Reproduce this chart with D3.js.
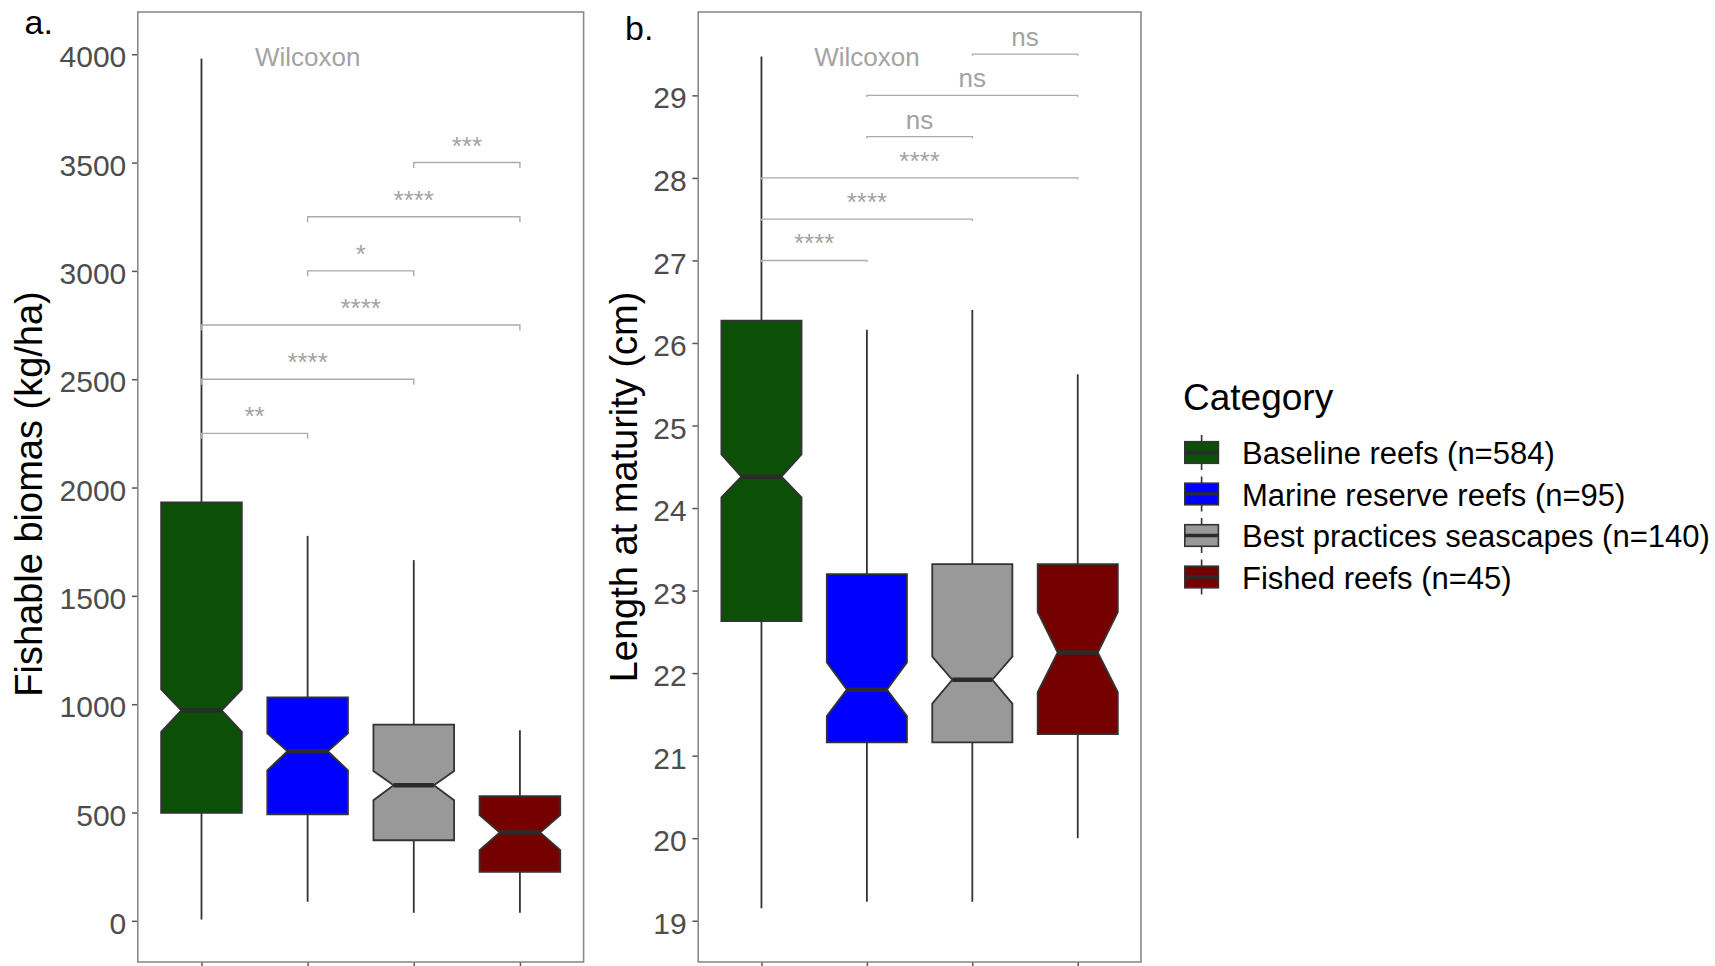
<!DOCTYPE html>
<html><head><meta charset="utf-8">
<script src="https://cdn.jsdelivr.net/npm/d3@7"></script>
<style>body{margin:0;background:#fff} text{font-family:"Liberation Sans",Arial,Helvetica,sans-serif}</style>
</head><body><svg id="chart" width="1715" height="966"></svg>
<script>
// ---------- data ----------
const categories = ["Baseline reefs (n=584)", "Marine reserve reefs (n=95)", "Best practices seascapes (n=140)", "Fished reefs (n=45)"];
const fillColors = ["#0c4f07", "#0000ff", "#999999", "#750000"];

// panel a: fishable biomass (kg/ha)
const biomassLowerWhisker = [6, 88, 37, 37];
const biomassQ1 = [498, 492, 372, 226];
const biomassNotchLower = [872, 695, 557, 326];
const biomassMedian = [972, 783, 626, 408];
const biomassNotchUpper = [1068, 865, 692, 488];
const biomassQ3 = [1931, 1031, 906, 575];
const biomassUpperWhisker = [3980, 1777, 1665, 880];
const biomassTicks = [0, 500, 1000, 1500, 2000, 2500, 3000, 3500, 4000];
const biomassPairs = [[0, 1], [0, 2], [0, 3], [1, 2], [1, 3], [2, 3]];
const biomassBracketY = [2250, 2500, 2750, 3000, 3250, 3500];
const biomassSignif = ["**", "****", "****", "*", "****", "***"];

// panel b: length at maturity (cm)
const lengthLowerWhisker = [19.15, 19.23, 19.23, 20.00];
const lengthQ1 = [22.63, 21.16, 21.16, 21.26];
const lengthNotchLower = [24.13, 21.48, 21.63, 21.77];
const lengthMedian = [24.38, 21.80, 21.92, 22.25];
const lengthNotchUpper = [24.65, 22.13, 22.20, 22.74];
const lengthQ3 = [26.27, 23.20, 23.32, 23.32];
const lengthUpperWhisker = [29.47, 26.16, 26.40, 25.62];
const lengthTicks = [19, 20, 21, 22, 23, 24, 25, 26, 27, 28, 29];
const lengthPairs = [[0, 1], [0, 2], [0, 3], [1, 2], [1, 3], [2, 3]];
const lengthBracketY = [27, 27.5, 28, 28.5, 29, 29.5];
const lengthSignif = ["****", "****", "****", "ns", "ns", "ns"];

// ---------- drawing ----------
const svg = d3.select("#chart");

function drawPanel(cfg) {
  const g = svg.append("g");
  const x = d3.scalePoint().domain(d3.range(categories.length))
    .range([cfg.left, cfg.right]).padding(0.6);
  const unit = x.step();
  const y = d3.scaleLinear().domain(cfg.yDomain).range([cfg.bottom, cfg.top]);
  const bw = unit * 0.76, hw = bw / 2, nw = hw * 0.5;

  // axes
  const ya = g.append("g").attr("transform", `translate(${cfg.left},0)`)
    .call(d3.axisLeft(y).tickValues(cfg.ticks).tickFormat(d3.format("d")).tickSize(5.8).tickPadding(5.7));
  ya.select(".domain").remove();
  ya.selectAll("line").attr("stroke", "#555").attr("stroke-width", 1.5);
  ya.selectAll("text").attr("font-size", 30).attr("fill", "#4d4d4d").attr("dy", "0.42em");

  const xa = g.append("g").attr("transform", `translate(0,${cfg.bottom})`)
    .call(d3.axisBottom(x).tickSize(5.5).tickFormat(""));
  xa.select(".domain").remove();
  xa.selectAll("line").attr("stroke", "#555").attr("stroke-width", 1.5);

  // boxes
  const idx = d3.range(categories.length);
  const bx = g.append("g").selectAll("g").data(idx).join("g");
  bx.append("line").attr("x1", i => x(i)).attr("x2", i => x(i))
    .attr("y1", i => y(cfg.uw[i])).attr("y2", i => y(cfg.q3[i]))
    .attr("stroke", "#333").attr("stroke-width", 1.8);
  bx.append("line").attr("x1", i => x(i)).attr("x2", i => x(i))
    .attr("y1", i => y(cfg.q1[i])).attr("y2", i => y(cfg.lw[i]))
    .attr("stroke", "#333").attr("stroke-width", 1.8);
  bx.append("path")
    .attr("d", i => {
      const c = x(i);
      return d3.line()([
        [c - hw, y(cfg.q3[i])], [c + hw, y(cfg.q3[i])], [c + hw, y(cfg.nu[i])],
        [c + nw, y(cfg.med[i])], [c + hw, y(cfg.nl[i])], [c + hw, y(cfg.q1[i])],
        [c - hw, y(cfg.q1[i])], [c - hw, y(cfg.nl[i])], [c - nw, y(cfg.med[i])],
        [c - hw, y(cfg.nu[i])]
      ]) + "Z";
    })
    .attr("fill", i => fillColors[i]).attr("stroke", "#333").attr("stroke-width", 1.8)
    .attr("stroke-linejoin", "miter");
  bx.append("line").attr("x1", i => x(i) - nw).attr("x2", i => x(i) + nw)
    .attr("y1", i => y(cfg.med[i])).attr("y2", i => y(cfg.med[i]))
    .attr("stroke", "#2b2b2b").attr("stroke-width", 4.5);

  // significance brackets
  const br = g.append("g").selectAll("g").data(d3.range(cfg.pairs.length)).join("g");
  br.append("path")
    .attr("d", k => {
      const [a, b] = cfg.pairs[k];
      const yy = cfg.bracketY[k];
      return d3.line()([[x(a), y(yy - cfg.tip)], [x(a), y(yy)], [x(b), y(yy)], [x(b), y(yy - cfg.tip)]]);
    })
    .attr("fill", "none").attr("stroke", "#ababab").attr("stroke-width", 1.4);
  br.append("text")
    .attr("x", k => (x(cfg.pairs[k][0]) + x(cfg.pairs[k][1])) / 2)
    .attr("y", k => y(cfg.bracketY[k]))
    .attr("dy", -8)
    .attr("text-anchor", "middle").attr("font-size", 26).attr("fill", "#a3a3a3")
    .text(k => cfg.signif[k]);

  g.append("text").attr("x", x(1)).attr("y", y(cfg.methodY)).attr("dy", "0.38em")
    .attr("text-anchor", "middle").attr("font-size", 26).attr("fill", "#a3a3a3")
    .text("Wilcoxon");

  // panel border
  g.append("rect").attr("x", cfg.left).attr("y", cfg.top)
    .attr("width", cfg.right - cfg.left).attr("height", cfg.bottom - cfg.top)
    .attr("fill", "none").attr("stroke", "#8a8a8a").attr("stroke-width", 1.6);

  // axis title
  g.append("text")
    .attr("transform", `translate(${cfg.titleX},${cfg.titleY}) rotate(-90)`)
    .attr("text-anchor", "middle").attr("font-size", 38).attr("fill", "#000")
    .text(cfg.title);

  // panel tag
  g.append("text").attr("x", cfg.tagX).attr("y", cfg.tagY)
    .attr("font-size", 34).attr("fill", "#000").text(cfg.tag);
}

drawPanel({
  left: 137.8, right: 583.6, top: 12, bottom: 962,
  yDomain: [-190, 4195], ticks: biomassTicks,
  lw: biomassLowerWhisker, q1: biomassQ1, nl: biomassNotchLower, med: biomassMedian,
  nu: biomassNotchUpper, q3: biomassQ3, uw: biomassUpperWhisker,
  pairs: biomassPairs, bracketY: biomassBracketY, signif: biomassSignif, tip: 25,
  methodY: 3990,
  title: "Fishable biomas (kg/ha)", titleX: 41.5, titleY: 494,
  tag: "a.", tagX: 24.5, tagY: 33.5
});

drawPanel({
  left: 698.2, right: 1141, top: 12, bottom: 962,
  yDomain: [18.5, 30.01], ticks: lengthTicks,
  lw: lengthLowerWhisker, q1: lengthQ1, nl: lengthNotchLower, med: lengthMedian,
  nu: lengthNotchUpper, q3: lengthQ3, uw: lengthUpperWhisker,
  pairs: lengthPairs, bracketY: lengthBracketY, signif: lengthSignif, tip: 0.02,
  methodY: 29.47,
  title: "Length at maturity (cm)", titleX: 637, titleY: 487,
  tag: "b.", tagX: 625, tagY: 40
});

// ---------- legend ----------
const lg = svg.append("g");
lg.append("text").attr("x", 1183).attr("y", 410).attr("font-size", 37).attr("fill", "#000").text("Category");
const ly = d3.scaleLinear().domain([0, 1]).range([452.5, 494]);
const rows = lg.selectAll("g.row").data(d3.range(categories.length)).join("g").attr("class", "row")
  .attr("transform", i => `translate(0,${ly(i)})`);
rows.append("line").attr("x1", 1201.6).attr("x2", 1201.6).attr("y1", -17.5).attr("y2", 17.5)
  .attr("stroke", "#333").attr("stroke-width", 1.6);
rows.append("rect").attr("x", 1184.8).attr("y", -10.8).attr("width", 33.6).attr("height", 21.6)
  .attr("fill", i => fillColors[i]).attr("stroke", "#333").attr("stroke-width", 1.6);
rows.append("line").attr("x1", 1184.8).attr("x2", 1218.4).attr("y1", 0).attr("y2", 0)
  .attr("stroke", "#2b2b2b").attr("stroke-width", 3.5);
rows.append("text").attr("x", 1242).attr("y", 11.5).attr("font-size", 31).attr("fill", "#000")
  .text(i => categories[i]);
</script>
</body></html>
